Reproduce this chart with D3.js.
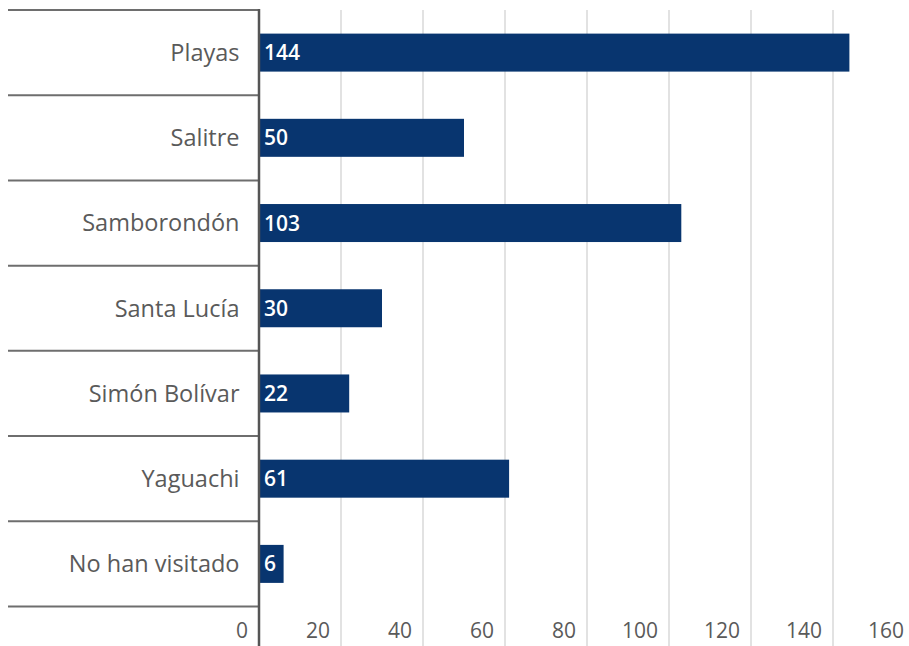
<!DOCTYPE html>
<html>
<head>
<meta charset="utf-8">
<script src="https://cdn.jsdelivr.net/npm/d3@7/dist/d3.min.js"></script>
<style>
  html, body { margin: 0; padding: 0; background: #fff; }
  svg { display: block; font-family: "Open Sans", "Noto Sans", sans-serif; }
</style>
</head>
<body>
<svg id="chart" width="909" height="646"></svg>
<script>
// Municipalities visited and how many respondents named each one
const categories = ["Playas", "Salitre", "Samborondón", "Santa Lucía", "Simón Bolívar", "Yaguachi", "No han visitado"];
const values = [144, 50, 103, 30, 22, 61, 6];
const tickValues = [0, 20, 40, 60, 80, 100, 120, 140, 160];

const svg = d3.select("#chart");
const W = 909, H = 646;
const axisX = 259, rowsTop = 10, rowsBottom = 606.5;

const x = d3.scaleLinear().domain([0, 160]).range([axisX, 915]);
const y = d3.scaleBand().domain(categories).range([rowsTop, rowsBottom]).paddingInner(0).paddingOuter(0);
const barH = 38;

// vertical gridlines
svg.append("g").selectAll("line")
  .data(tickValues.filter(d => d > 0))
  .join("line")
  .attr("x1", d => x(d)).attr("x2", d => x(d))
  .attr("y1", rowsTop).attr("y2", H)
  .attr("stroke", "#e2e2e2").attr("stroke-width", 2);

// row separators in the label column
const seps = categories.map(c => y(c)).concat([rowsBottom]);
svg.append("g").selectAll("line")
  .data(seps)
  .join("line")
  .attr("x1", 8).attr("x2", axisX)
  .attr("y1", d => d).attr("y2", d => d)
  .attr("stroke", "#6e6e6e").attr("stroke-width", 2);

// bars
svg.append("g").selectAll("rect")
  .data(categories)
  .join("rect")
  .attr("x", x(0))
  .attr("y", (c) => y(c) + y.bandwidth() / 2 - barH / 2)
  .attr("width", (c, i) => x(values[i]) - x(0))
  .attr("height", barH)
  .attr("fill", "#08356f");

// value labels inside the bars
svg.append("g").selectAll("text")
  .data(categories)
  .join("text")
  .attr("x", x(0) + 5)
  .attr("y", c => y(c) + y.bandwidth() / 2)
  .attr("dy", "0.36em")
  .attr("fill", "#fff")
  .attr("font-size", 21)
  .attr("font-weight", 600)
  .text((c, i) => values[i]);

// category labels
svg.append("g").selectAll("text")
  .data(categories)
  .join("text")
  .attr("x", 239.5)
  .attr("y", c => y(c) + y.bandwidth() / 2)
  .attr("dy", "0.36em")
  .attr("text-anchor", "end")
  .attr("fill", "#5a5a5a")
  .attr("font-size", 23.5)
  .text(c => c);

// tick labels along the bottom
svg.append("g").selectAll("text")
  .data(tickValues)
  .join("text")
  .attr("x", d => x(d) - 11)
  .attr("y", 638)
  .attr("text-anchor", "end")
  .attr("fill", "#5a5a5a")
  .attr("font-size", 21)
  .text(d => d);

// category axis line
svg.append("line")
  .attr("x1", axisX).attr("x2", axisX)
  .attr("y1", rowsTop - 1).attr("y2", H)
  .attr("stroke", "#555").attr("stroke-width", 2.5);
</script>
</body>
</html>
